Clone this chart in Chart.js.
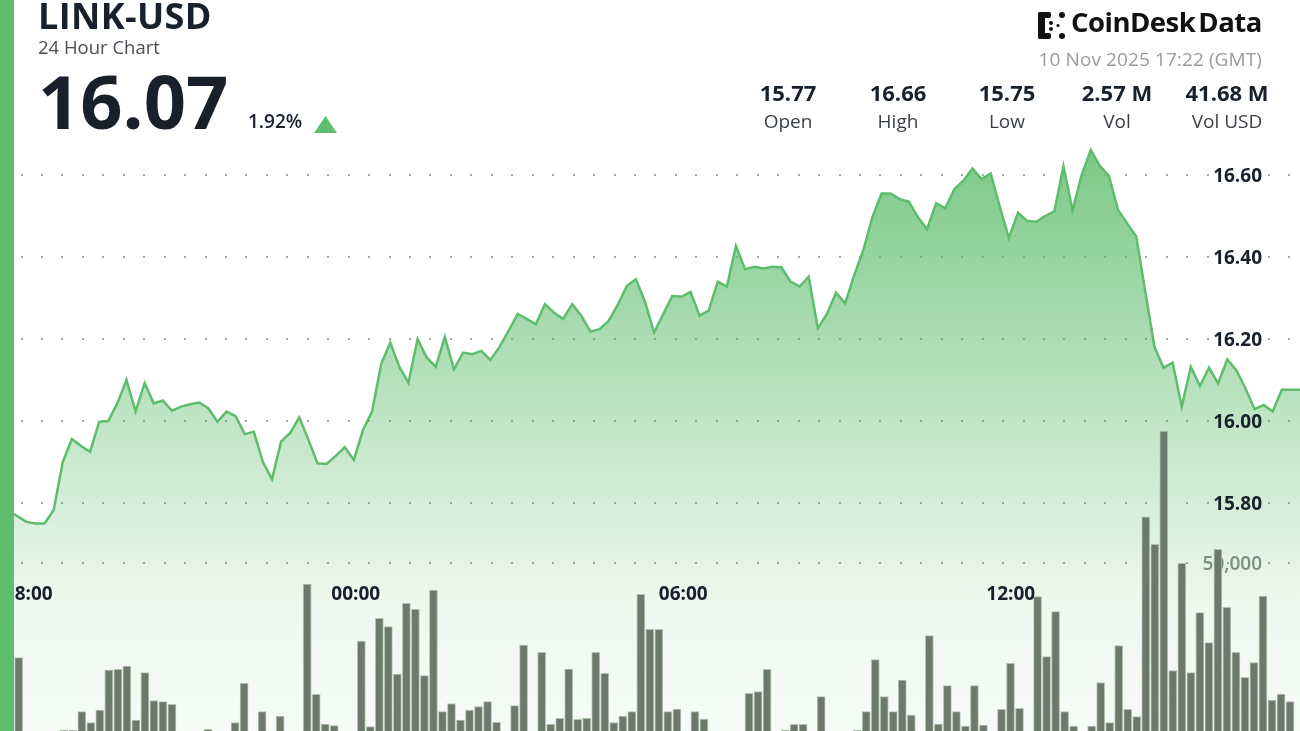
<!DOCTYPE html>
<html>
<head>
<meta charset="utf-8">
<title>LINK-USD 24 Hour Chart</title>
<script src="https://cdn.jsdelivr.net/npm/chart.js@4.4.0/dist/chart.umd.min.js"></script>
<style>
  html, body { margin: 0; padding: 0; background: #fff; }
  body { width: 1300px; height: 731px; position: relative; overflow: hidden;
         font-family: "Open Sans", sans-serif; color: #18202c; }
  #chart { position: absolute; left: 0; top: 0; }
  .sidebar { position: absolute; left: 0; top: 0; width: 14px; height: 731px; background: #5fbe6e; }
  .t { position: absolute; white-space: nowrap; line-height: 1; }
  .pair { position: absolute; width: 120px; text-align: center; }
  .pair .v { font-size: 22px; font-weight: 700; line-height: 1; position: absolute; left: 0; right: 0; top: 0; }
  .pair .l { font-size: 19px; font-weight: 400; line-height: 1; color: #3a3f45; position: absolute; left: 0; right: 0; top: 31px; }
</style>
</head>
<body>
<canvas id="chart" width="1300" height="731"></canvas>
<div class="sidebar"></div>

<div class="t" style="left:38px; top:-2px; font-size:36px; font-weight:700; letter-spacing:0.4px;">LINK-USD</div>
<div class="t" style="left:38px; top:38px; font-size:18.5px; color:#4a4f55;">24 Hour Chart</div>
<div class="t" style="left:38px; top:64px; font-size:74px; font-weight:700;">16.07</div>
<div class="t" style="left:248px; top:112px; font-size:19px; font-weight:600;">1.92%</div>
<svg class="t" style="left:314px; top:116px;" width="23" height="18" viewBox="0 0 23 18">
  <polygon points="11.5,0 23,17 0,17" fill="#5fbe6e"/>
</svg>

<svg class="t" style="left:1036px; top:10px;" width="31" height="31" viewBox="0 0 31 31">
  <g fill="#111">
    <rect x="2" y="2" width="7" height="27" rx="2"/>
    <rect x="2" y="2" width="13" height="6" rx="2"/>
    <rect x="2" y="23" width="13" height="6" rx="2"/>
    <circle cx="26" cy="5" r="3"/>
    <circle cx="26" cy="26" r="3"/>
    <circle cx="15" cy="13" r="2"/>
    <circle cx="15" cy="19" r="2"/>
    <circle cx="22" cy="15.5" r="1.6"/>
  </g>
</svg>
<div class="t" style="left:1071px; top:8px; font-size:27.5px; font-weight:700; letter-spacing:-0.5px; color:#111;">CoinDesk<span style="margin-left:3px">Data</span></div>
<div class="t" style="right:38px; top:50px; font-size:19px; letter-spacing:0.1px; color:#9a9a9a;">10 Nov 2025 17:22 (GMT)</div>

<div class="pair" style="left:728px; top:81px;"><div class="v">15.77</div><div class="l">Open</div></div>
<div class="pair" style="left:838px; top:81px;"><div class="v">16.66</div><div class="l">High</div></div>
<div class="pair" style="left:947px; top:81px;"><div class="v">15.75</div><div class="l">Low</div></div>
<div class="pair" style="left:1057px; top:81px;"><div class="v">2.57 M</div><div class="l">Vol</div></div>
<div class="pair" style="left:1167px; top:81px;"><div class="v">41.68 M</div><div class="l">Vol USD</div></div>

<script>
// price samples every 10 minutes, first one at 17:38 the day before
const firstMinute = -22; // minutes relative to 18:00
const prices = [
  15.78, 15.768,
  15.754, 15.75, 15.75, 15.783, 15.90, 15.956, 15.939, 15.925, 15.998, 16.00,
  16.043, 16.10, 16.023, 16.092, 16.043, 16.05, 16.025, 16.035, 16.041, 16.045,
  16.031, 15.998, 16.023, 16.012, 15.968, 15.974, 15.90, 15.858, 15.95, 15.971,
  16.009, 15.954, 15.897, 15.895, 15.915, 15.936, 15.905, 15.978, 16.023, 16.139,
  16.191, 16.132, 16.093, 16.20, 16.155, 16.132, 16.205, 16.126, 16.167, 16.163,
  16.171, 16.149, 16.18, 16.22, 16.261, 16.249, 16.236, 16.285, 16.264, 16.249,
  16.285, 16.257, 16.218, 16.224, 16.244, 16.283, 16.329, 16.346, 16.291, 16.216,
  16.261, 16.305, 16.303, 16.315, 16.257, 16.269, 16.34, 16.328, 16.427, 16.37,
  16.376, 16.372, 16.376, 16.375, 16.34, 16.328, 16.352, 16.226, 16.261, 16.313,
  16.287, 16.356, 16.417, 16.497, 16.555, 16.555, 16.541, 16.535, 16.497, 16.468,
  16.531, 16.519, 16.565, 16.586, 16.616, 16.59, 16.604, 16.523, 16.446, 16.508,
  16.488, 16.486, 16.50, 16.511, 16.622, 16.513, 16.60, 16.661, 16.622, 16.598,
  16.515, 16.482, 16.45, 16.315, 16.181, 16.13, 16.142, 16.035, 16.132, 16.085,
  16.13, 16.092, 16.15, 16.124, 16.08, 16.029, 16.039, 16.023, 16.076, 16.076,
  16.076
];

// volume per bar (LINK)
const volumes = [
  22150, 0, 0, 0, 0, 880, 880, 6270, 3040, 6760,
  18530, 18730, 19700, 3820, 17740, 9510, 9220, 8430, 0, 0,
  0, 1080, 0, 0, 3040, 14610, 0, 6270, 0, 5000,
  0, 0, 43820, 11380, 2650, 2160, 0, 0, 27060, 1860,
  33720, 31270, 17350, 38130, 36370, 16860, 42060, 6270, 8680, 3820,
  6760, 7740, 9220, 3140, 0, 8040, 25880, 0, 23730, 2550,
  4310, 18820, 4020, 4310, 23730, 17550, 3040, 5000, 6270, 40780,
  30480, 30480, 6270, 7060, 0, 6270, 4120, 0, 0, 0,
  0, 11670, 12160, 18730, 0, 880, 2550, 2550, 0, 10690,
  0, 0, 0, 880, 6270, 21570, 10690, 6270, 15590, 5290,
  0, 28620, 2650, 13920, 6270, 2060, 13920, 2350, 0, 6960,
  20490, 7260, 0, 40090, 22450, 35680, 6270, 2060, 0, 2060,
  14800, 3040, 25680, 6960, 4800, 63600, 55500, 88820, 18330, 49900,
  17740, 35390, 26570, 54020, 36960, 23730, 16370, 20690, 40290, 9710,
  11470, 9220
];

const priceTicks = [15.80, 16.00, 16.20, 16.40, 16.60];
const volumeTicks = [50000];
const timeTicks = ['18:00', '00:00', '06:00', '12:00'];
const timeTickMinutes = [0, 360, 720, 1080];

const green = 'rgb(94,189,108)';

const gridPlugin = {
  id: 'coindeskGrid',
  beforeDatasetsDraw(chart) {
    const { ctx, chartArea, scales } = chart;
    ctx.save();
    ctx.fillStyle = 'rgba(125,125,125,0.7)';
    const rows = priceTicks.map(v => scales.y.getPixelForValue(v))
      .concat(volumeTicks.map(v => scales.yVol.getPixelForValue(v)));
    rows.forEach(py => {
      for (let px = 21.5; px < chartArea.right; px += 20.45) {
        ctx.fillRect(Math.round(px) - 1, Math.round(py) - 1, 2, 2);
      }
    });
    // volume label sits under the bars
    ctx.font = '600 19px "Open Sans"';
    ctx.textAlign = 'right';
    ctx.fillStyle = '#7d897e';
    volumeTicks.forEach(v => {
      ctx.fillText(v.toLocaleString('en-US'), 1262, scales.yVol.getPixelForValue(v) + 7);
    });
    ctx.restore();
  },
  afterDatasetsDraw(chart) {
    const { ctx, scales } = chart;
    ctx.save();
    ctx.font = '700 19px "Open Sans"';
    ctx.fillStyle = '#18202c';
    ctx.textAlign = 'right';
    priceTicks.forEach(v => {
      ctx.fillText(v.toFixed(2), 1262, scales.y.getPixelForValue(v) + 7);
    });
    ctx.textAlign = 'center';
    timeTicks.forEach((label, i) => {
      ctx.fillText(label, scales.x.getPixelForValue(timeTickMinutes[i]), 600);
    });
    ctx.restore();
  }
};

new Chart(document.getElementById('chart'), {
  type: 'bar',
  data: {
    datasets: [
      {
        type: 'line',
        label: 'Price',
        data: prices.map((p, i) => ({ x: firstMinute + 10 * i, y: p })),
        xAxisID: 'x',
        yAxisID: 'y',
        borderColor: green,
        borderWidth: 2.5,
        pointRadius: 0,
        tension: 0,
        fill: 'start',
        backgroundColor: (c) => {
          const { ctx, chartArea } = c.chart;
          if (!chartArea) return 'rgba(94,189,108,0.3)';
          const g = ctx.createLinearGradient(0, chartArea.top, 0, chartArea.bottom);
          g.addColorStop(0, 'rgba(94,189,108,0.9)');
          g.addColorStop(0.205, 'rgba(94,189,108,0.82)');
          g.addColorStop(0.82, 'rgba(94,189,108,0.11)');
          g.addColorStop(1, 'rgba(94,189,108,0.06)');
          return g;
        },
        order: 2
      },
      {
        type: 'bar',
        label: 'Volume',
        data: volumes.map((v, k) => ({ x: k, y: v })),
        xAxisID: 'xb',
        yAxisID: 'yVol',
        backgroundColor: '#6b7a6b',
        borderColor: 'rgba(170,190,170,0.9)',
        borderWidth: 1,
        barThickness: 8,
        order: 1
      }
    ]
  },
  options: {
    responsive: false,
    animation: false,
    devicePixelRatio: 1,
    layout: { padding: 0 },
    plugins: { legend: { display: false }, tooltip: { enabled: false } },
    scales: {
      x: { type: 'linear', display: false, offset: false, min: -31, max: 1398 },
      xb: { type: 'linear', display: false, offset: false, min: -1.627, max: 142.55 },
      y: { type: 'linear', display: false, min: 15.2439, max: 17.0268 },
      yVol: { type: 'linear', display: false, min: 588, max: 215588 }
    }
  },
  plugins: [gridPlugin]
});
</script>
</body>
</html>
